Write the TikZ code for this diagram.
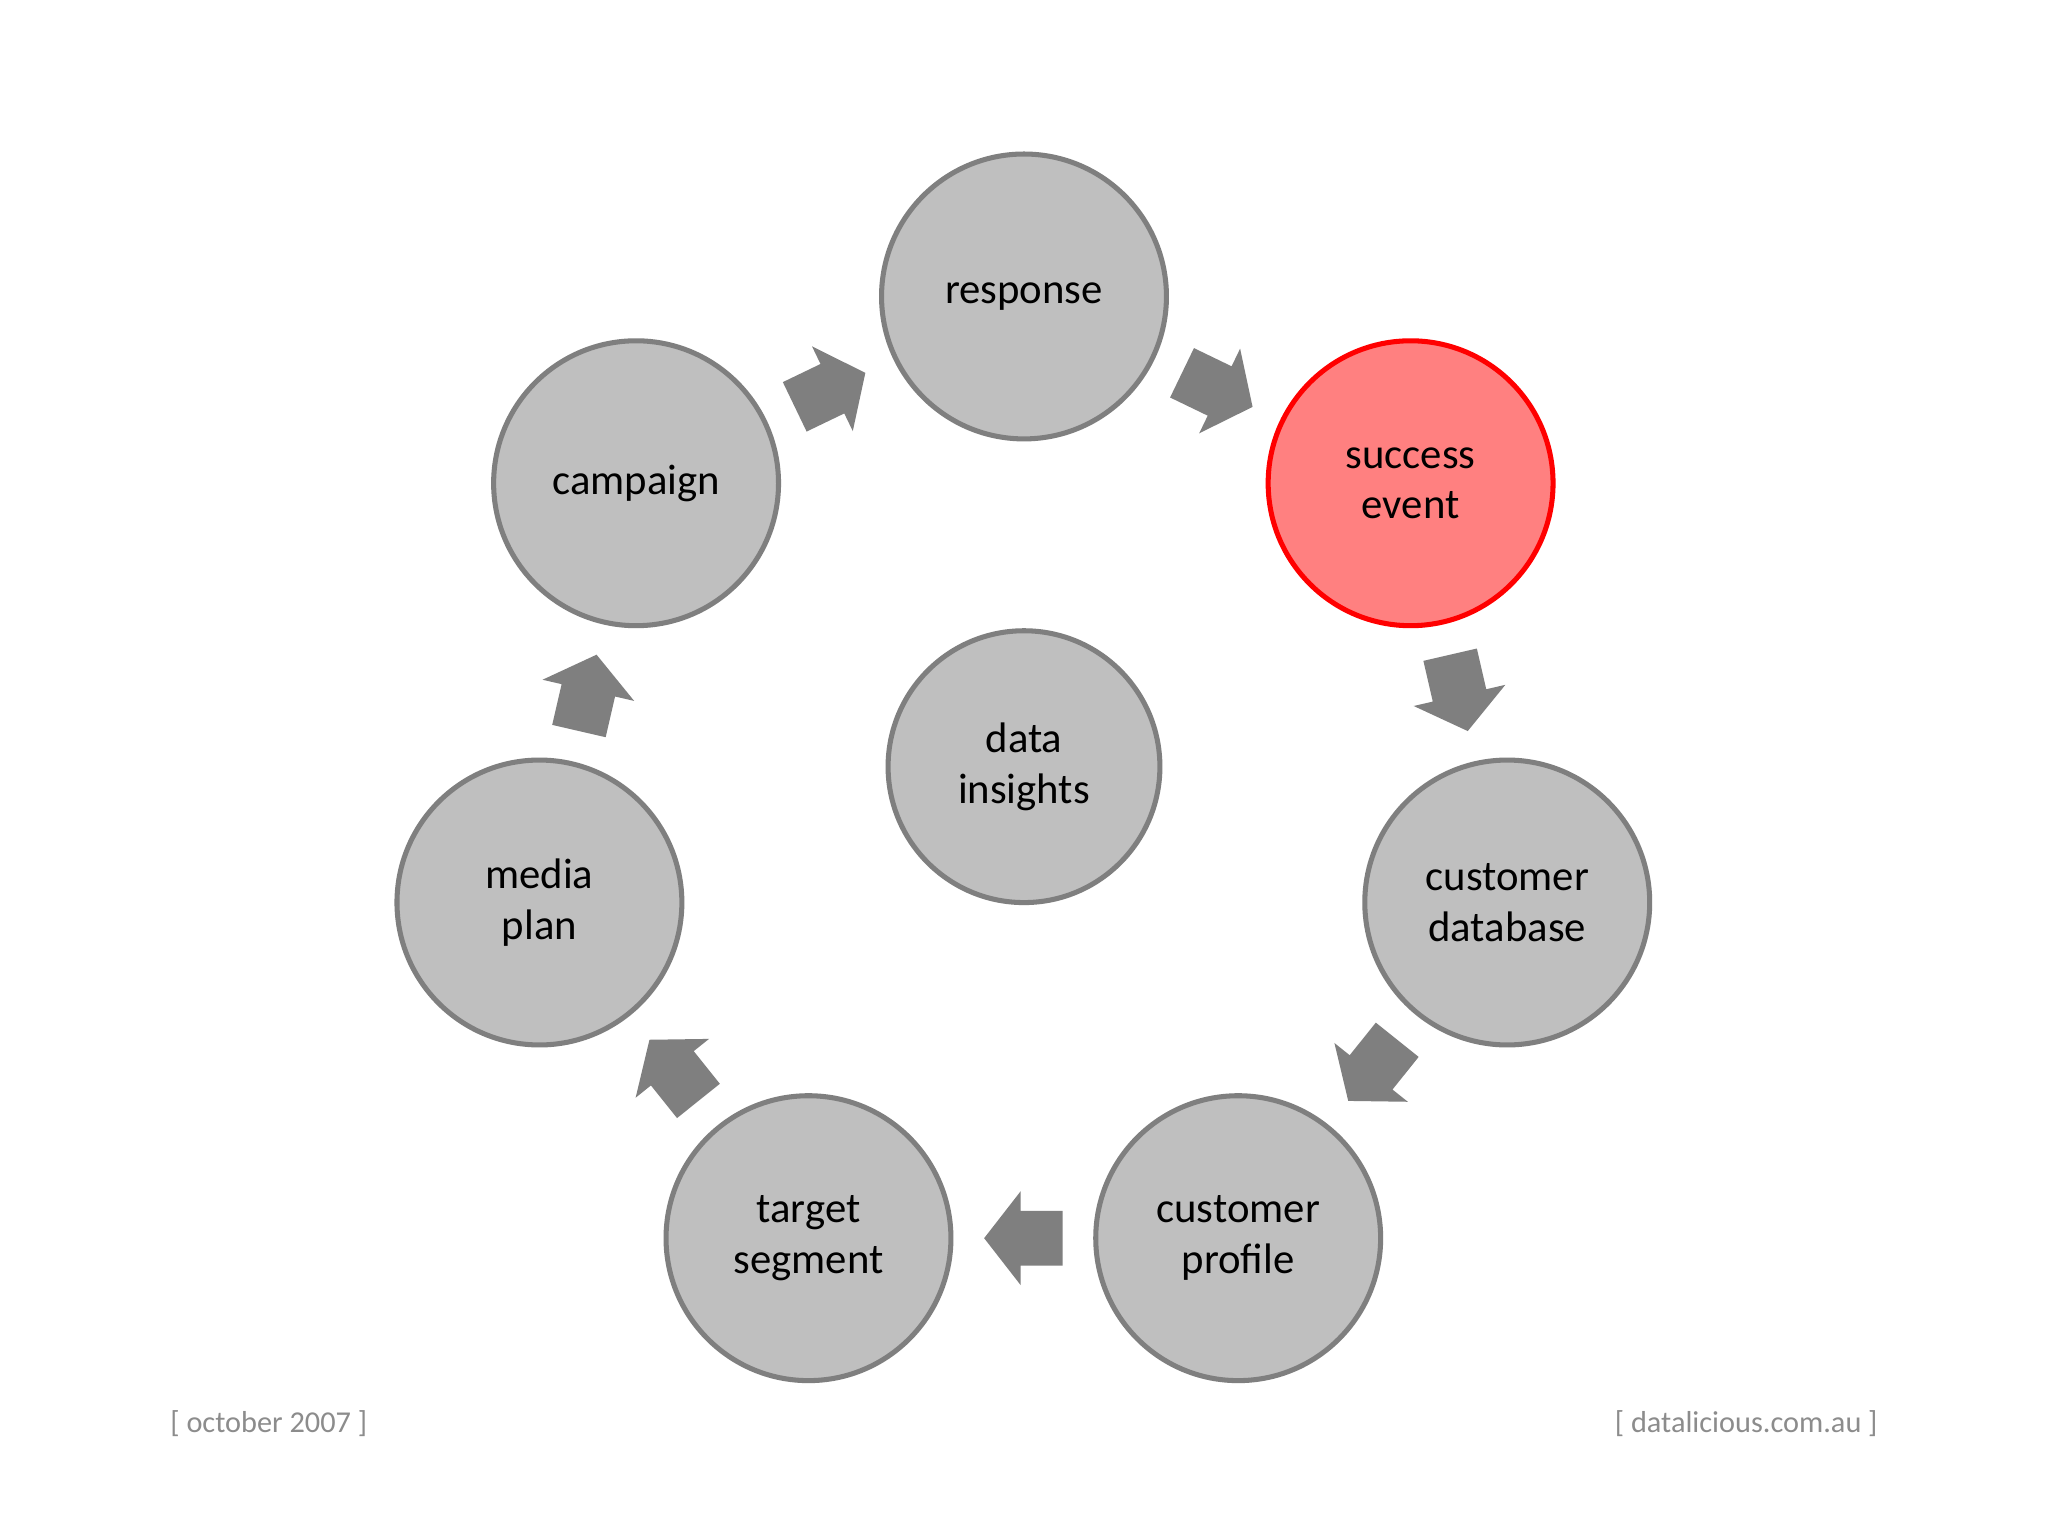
\documentclass[tikz,border=0pt]{standalone}
\usepackage{fontspec}
\setmainfont{Carlito}
\usetikzlibrary{calc}
\definecolor{cfill}{HTML}{BFBFBF}
\definecolor{cline}{HTML}{7F7F7F}
\definecolor{rfill}{HTML}{FF8080}
\definecolor{foot}{HTML}{8C8C8C}
\tikzset{
  step circle/.style={circle,draw=cline,fill=cfill,line width=1.1pt,minimum size=2.18cm,inner sep=0pt,align=center,font=\fontsize{9.3}{11}\selectfont},
  hot/.style={draw=red,fill=rfill},
  blk/.style={fill=cline,draw=none},
  footer/.style={text=foot,font=\fontsize{6.6}{8}\selectfont}
}
\newcommand{\barrow}[3]{%
  \fill[blk,shift={($(#1)!0.5!(#2)$)},rotate=#3]
    (-30,-21) -- (2,-21) -- (2,-36) -- (30,0) -- (2,36) -- (2,21) -- (-30,21) -- cycle;}
\begin{document}
\begin{tikzpicture}[x=0.01cm,y=0.01cm]
\useasboundingbox (0,0) rectangle (1568,1176);
\fill[white] (0,0) rectangle (1568,1176);
\node[step circle] (resp) at (784,949) {response};
\node[step circle,hot] (succ) at (1080,806) {success\\event};
\node[step circle] (db) at (1154,485) {customer\\database};
\node[step circle] (prof) at (948,228) {customer\\profile};
\node[step circle] (targ) at (619,228) {target\\segment};
\node[step circle] (media) at (413,485) {media\\plan};
\node[step circle] (camp) at (487,806) {campaign};
\node[step circle,minimum size=2.08cm] (data) at (784,589) {data\\insights};
\barrow{camp}{resp}{25.7}
\barrow{resp}{succ}{-25.8}
\barrow{succ}{db}{-77}
\barrow{db}{prof}{231.3}
\barrow{prof}{targ}{180}
\barrow{targ}{media}{128.7}
\barrow{media}{camp}{77}
\node[footer,anchor=west] (f1) at (118,86) {[ october 2007 ]};
\node[footer,anchor=east] (f2) at (1450,86) {[ datalicious.com.au ]};
\end{tikzpicture}
\end{document}
